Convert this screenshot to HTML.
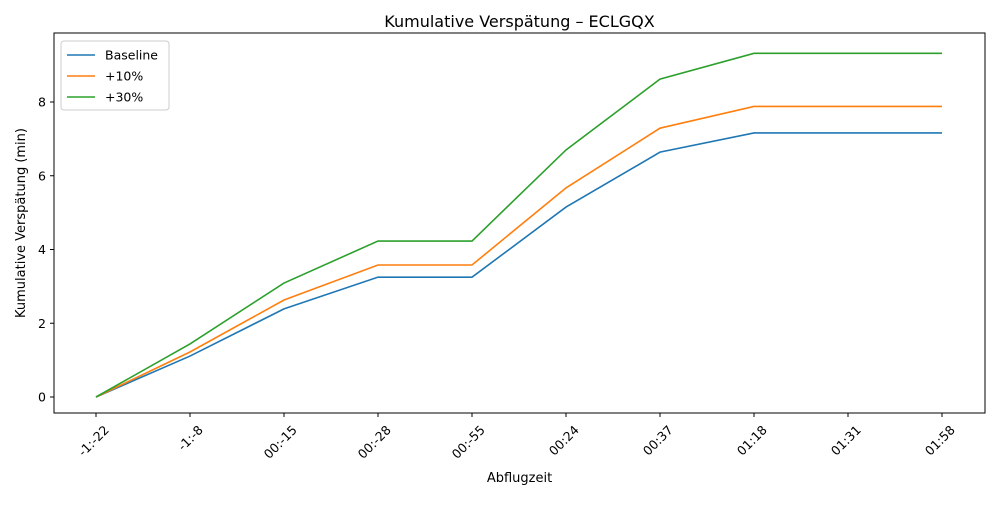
<!DOCTYPE html>
<html><head><meta charset="utf-8"><style>
body{margin:0;background:#fff;font-family:"Liberation Sans","DejaVu Sans",sans-serif;}
svg text{font-family:"DejaVu Sans","Liberation Sans",sans-serif;}
</style></head><body>
<svg id="chart" width="1000" height="500" xmlns="http://www.w3.org/2000/svg"></svg>
<script>
const categories=["-1:-22","-1:-8","00:-15","00:-28","00:-55","00:24","00:37","01:18","01:31","01:58"];
const baseline=[0,1.11,2.39,3.25,3.25,5.15,6.64,7.16,7.16,7.16];
const plus10=[0,1.22,2.63,3.58,3.58,5.67,7.29,7.88,7.88,7.88];
const plus30=[0,1.44,3.09,4.23,4.23,6.70,8.62,9.32,9.32,9.32];
const yTicks=[0,2,4,6,8];
const seriesNames=["Baseline","+10%","+30%"];
const colors=["#1f77b4","#ff7f0e","#2ca02c"];
const svg=document.getElementById('chart');
const NS="http://www.w3.org/2000/svg";
const L=54,R=985,T=33,B=413;
const x=i=>96+i*(942-96)/(categories.length-1);
const y=v=>397-v*(397-102)/8;
function mk(tag,attrs,text){const e=document.createElementNS(NS,tag);for(const k in attrs)e.setAttribute(k,attrs[k]);if(text!==undefined)e.textContent=text;svg.appendChild(e);return e;}
let e;
e=mk('rect',{x:L,y:T,width:R-L,height:B-T,fill:'none',stroke:'#000','stroke-width':1});


e=mk('text',{x:(L+R)/2,y:27,'text-anchor':'middle','font-size':16},'Kumulative Verspätung – ECLGQX');


e=mk('text',{x:(L+R)/2,y:482,'text-anchor':'middle','font-size':13},'Abflugzeit');


e=mk('text',{x:25,y:(T+B)/2,'text-anchor':'middle','font-size':13,transform:`rotate(-90 25 ${(T+B)/2})`},'Kumulative Verspätung (min)');


yTicks.forEach(v=>{
  e=mk('line',{x1:L-4,x2:L,y1:y(v),y2:y(v),stroke:'#000'});
  
  
  e=mk('text',{x:L-8,y:y(v)+4.5,'text-anchor':'end','font-size':12.5},String(v));
  
  
});
categories.forEach((c,i)=>{
  e=mk('line',{x1:x(i),x2:x(i),y1:B,y2:B+4,stroke:'#000'});
  
  
  const tx=x(i)+7,ty=B+11;
  e=mk('text',{x:tx,y:ty,'text-anchor':'end','font-size':12.5,transform:`rotate(-45 ${tx} ${ty})`,'dominant-baseline':'hanging'},c);
  
  
});
[baseline,plus10,plus30].forEach((s,k)=>{
  e=mk('polyline',{points:s.map((v,i)=>x(i)+','+y(v)).join(' '),fill:'none',stroke:colors[k],'stroke-width':1.6});
  
  
});
e=mk('rect',{x:61,y:41,width:108,height:69,fill:'#fff',stroke:'#ccc',rx:3});


seriesNames.forEach((n,k)=>{
  const ly=55+k*21;
  e=mk('line',{x1:67,x2:95,y1:ly,y2:ly,stroke:colors[k],'stroke-width':1.6});
  
  
  e=mk('text',{x:105,y:ly+4.5,'font-size':12.5},n);
  
  
});
</script>
</body></html>
